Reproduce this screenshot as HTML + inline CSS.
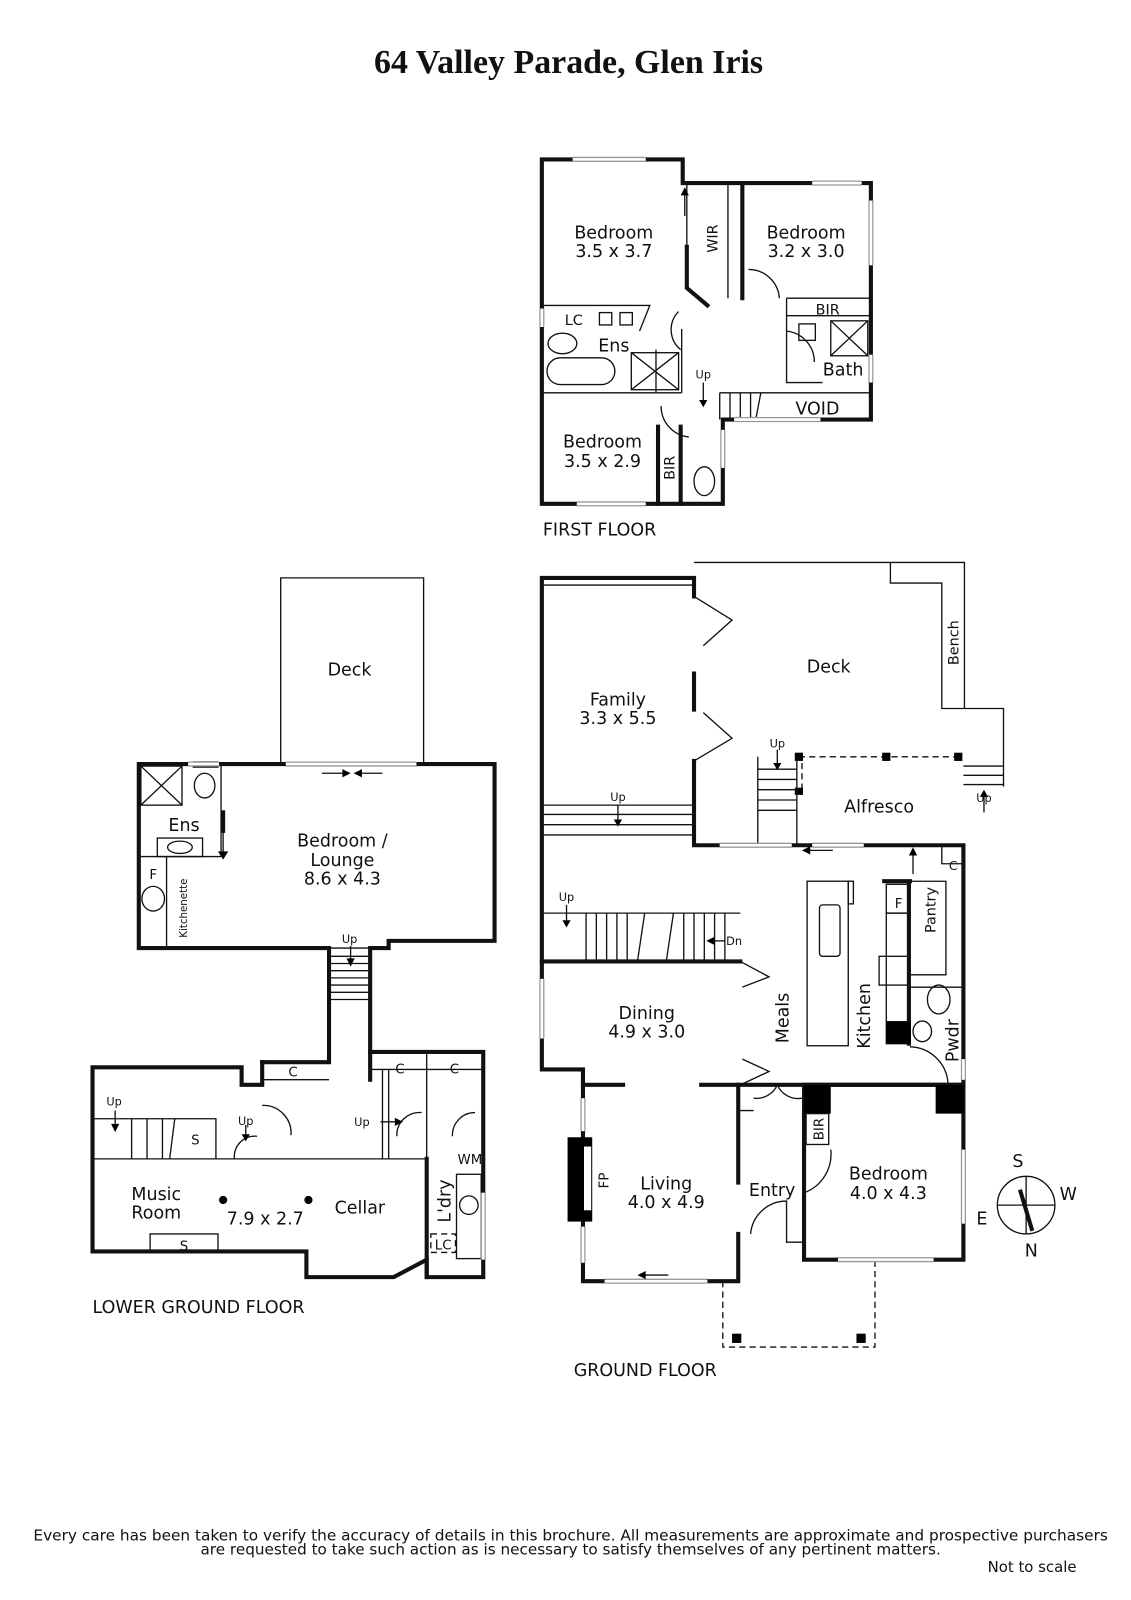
<!DOCTYPE html>
<html><head><meta charset="utf-8"><style>
html,body{margin:0;padding:0;background:#fff}
svg{display:block}
text{font-family:"DejaVu Sans","Liberation Sans",sans-serif;fill:#111}
.t{font-size:17px;text-anchor:middle}
.s{font-size:12px;text-anchor:middle}
.w{stroke:#111;stroke-width:4;fill:none;stroke-linecap:square}
.n{stroke:#111;stroke-width:1.3;fill:none}
.d{stroke:#111;stroke-width:1.3;fill:none;stroke-dasharray:6 4}
.win{stroke:#999;stroke-width:5;fill:none}
.win2{stroke:#fff;stroke-width:2.5;fill:none}
</style></head><body>
<svg width="1131" height="1600" viewBox="0 0 1100 1556" preserveAspectRatio="none" xmlns="http://www.w3.org/2000/svg">
<text x="553" y="71" style="font-family:'Liberation Serif',serif;font-weight:bold;font-size:33px;text-anchor:middle">64 Valley Parade, Glen Iris</text>

<!-- FIRST FLOOR -->
<g>
<path class="w" d="M527 155 H664 V178 H847 V408 H703 V490 H527 Z"/>
<path class="w" d="M722 178 V290"/>
<path class="w" d="M668 240 V280 L688 297"/>
<path class="n" d="M668 178 V240 M708 178 V290"/>
<path class="n" d="M527 297 H632 L622 322 M527 382 H663 M638 382 V340 M663 320 V382"/>
<path class="n" d="M765 290 H847 M765 307 H847 M765 290 V372 H800 M765 372 H785"/>
<path class="n" d="M700 382 H847 M700 382 V408 M740 382 L735 408 M710 382V408 M720 382V408 M730 382V408"/>
<path class="w" d="M640 415 V490 M662 415 V490"/>
<path class="n" d="M660 303 A25 25 0 0 0 662 340 M728 262 A30 30 0 0 1 758 290 M765 322 A30 30 0 0 1 792 352 M643 395 A30 30 0 0 0 670 425"/>
<rect class="n" x="614" y="343" width="46" height="36"/><path class="n" d="M614 343 L660 379 M660 343 L614 379"/>
<rect class="n" x="808" y="312" width="36" height="34"/><path class="n" d="M808 312 L844 346 M844 312 L808 346"/>
<rect class="n" x="777" y="315" width="16" height="16"/>
<ellipse class="n" cx="547" cy="334" rx="14" ry="10"/>
<rect class="n" x="532" y="348" width="66" height="26" rx="13"/>
<rect class="n" x="583" y="304" width="12" height="12"/><rect class="n" x="603" y="304" width="12" height="12"/>
<ellipse class="n" cx="685" cy="468" rx="10" ry="14"/>
<path class="win" d="M557 155H628 M790 178H838 M847 195V258 M847 345V372 M527 300V318 M714 408H798 M561 490H628 M703 418V455"/>
<path class="win2" d="M557 155H628 M790 178H838 M847 195V258 M847 345V372 M527 300V318 M714 408H798 M561 490H628 M703 418V455"/>
<path class="n" d="M666 210 V185"/><path d="M662 190 L666 182 L670 190Z"/>
<path class="n" d="M684 372 V392"/><path d="M680 389 L684 396 L688 389Z"/>
<text class="t" x="597" y="232">Bedroom</text><text class="t" x="597" y="250">3.5 x 3.7</text>
<text class="t" x="784" y="232">Bedroom</text><text class="t" x="784" y="250">3.2 x 3.0</text>
<text class="t" x="586" y="435">Bedroom</text><text class="t" x="586" y="454">3.5 x 2.9</text>
<text class="t" transform="translate(698 232) rotate(-90)" style="font-size:14px">WIR</text>
<text class="s" x="558" y="316" style="font-size:14px">LC</text>
<text class="t" x="597" y="342">Ens</text>
<text class="t" x="820" y="365">Bath</text>
<text class="s" x="805" y="306" style="font-size:14px">BIR</text>
<text class="s" x="684" y="368" style="font-size:11px">Up</text>
<text class="t" x="795" y="403">VOID</text>
<text class="t" transform="translate(656 455) rotate(-90)" style="font-size:14px">BIR</text>
<text x="528" y="521" style="font-size:17px">FIRST FLOOR</text>
</g>

<!-- GROUND FLOOR -->
<g>
<path class="n" d="M675 547 H938 V689 H976 V736 M866 547 V567 H916 V689 H938"/>
<path class="n" d="M527 569 H675"/>
<path class="w" d="M527 562 H675 V580 M675 655 V690 M675 740 V822 H937 V1055 M527 562 V1040 H567 V1246 H718 V1200 M718 1150 V1055 M782 1055 H937 M782 1055 V1225 H937 V1055"/>
<path class="n" d="M675 580 L712 603 L684 628 M675 740 L712 718 L684 693"/>
<path class="n" d="M527 783 H675 M527 792 H675 M527 802 H675 M527 812 H675"/>
<path class="d" d="M777 736 H937 M780 742 V770"/>
<rect x="773" y="732" width="8" height="8"/><rect x="858" y="732" width="8" height="8"/><rect x="928" y="732" width="8" height="8"/><rect x="773" y="766" width="8" height="7"/>
<path class="n" d="M737 736 V822 M775 736 V822 M737 748 H775 M737 758 H775 M737 768 H775 M737 778 H775 M737 788 H775 M937 745 H976 M937 754 H976 M937 763 H976 M976 736 V765"/>
<path class="n" d="M527 888 H720 M570 888 V935 M580 888V935 M590 888V935 M600 888V935 M610 888V935 M627 888 L620 935 M655 888 L648 935 M665 888V935 M675 888V935 M685 888V935 M695 888V935 M705 888V935"/>
<path class="w" d="M527 935 H720"/>
<path class="n" d="M720 935 L748 950 L722 960 M720 1055 L748 1042 L722 1030"/>
<path class="w" d="M567 1055 H606 M682 1055 H718 M718 1055 H937"/>
<path class="n" d="M718 1055 V1080 H733 M733 1068 A22 22 0 0 0 756 1055 A22 22 0 0 0 780 1068"/>
<rect x="782" y="1055" width="26" height="28"/><rect x="910" y="1055" width="27" height="28"/>
<rect class="n" x="784" y="1083" width="22" height="30"/>
<path class="n" d="M782 1160 A40 40 0 0 0 808 1118 M730 1200 A35 35 0 0 1 765 1168 V1208 H782"/>
<rect x="552" y="1106" width="24" height="82"/><rect x="568" y="1115" width="7" height="62" fill="#fff"/>
<rect class="n" x="785" y="857" width="40" height="160"/><rect class="n" x="825" y="857" width="5" height="22"/>
<rect class="n" x="797" y="880" width="20" height="50" rx="3"/>
<path class="w" d="M884 860 V1015 M860 857 H885"/>
<rect class="n" x="862" y="860" width="22" height="28"/>
<rect class="n" x="862" y="888" width="22" height="127"/>
<rect x="862" y="993" width="24" height="22"/>
<rect class="n" x="855" y="930" width="29" height="28"/>
<path class="n" d="M885 857 H920 V948 H885 M885 960 H937 M916 822 V840 H937"/>
<ellipse class="n" cx="913" cy="972" rx="11" ry="14"/><ellipse class="n" cx="897" cy="1003" rx="9" ry="10"/>
<path class="n" d="M885 1018 A38 38 0 0 1 922 1053"/>
<path class="d" d="M703 1246 V1310 H851 V1225"/>
<rect x="712" y="1297" width="9" height="9"/><rect x="833" y="1297" width="9" height="9"/>
<path class="win" d="M700 822H770 M790 822H840 M527 952V1010 M567 1068V1100 M567 1193V1228 M588 1246H688 M815 1225H908 M937 1118V1190 M937 1030V1050"/>
<path class="win2" d="M700 822H770 M790 822H840 M527 952V1010 M567 1068V1100 M567 1193V1228 M588 1246H688 M815 1225H908 M937 1118V1190 M937 1030V1050"/>
<path class="n" d="M888 850 V828"/><path d="M884 832 L888 824 L892 832Z"/>
<path class="n" d="M785 827 H810"/><path d="M788 823 L780 827 L788 831Z"/>
<path class="n" d="M625 1240 H650"/><path d="M628 1236 L620 1240 L628 1244Z"/>
<path class="n" d="M692 915 H705"/><path d="M695 911 L687 915 L695 919Z"/>
<path class="n" d="M601 783 V800 M551 880 V898 M756 729 V745 M957 790 V772"/>
<path d="M597 797 L601 804 L605 797Z M547 895 L551 902 L555 895Z M752 742 L756 749 L760 742Z M953 775 L957 768 L961 775Z"/>
<text class="t" x="601" y="686">Family</text><text class="t" x="601" y="704">3.3 x 5.5</text>
<text class="t" x="806" y="654">Deck</text>
<text class="t" transform="translate(932 625) rotate(-90)" style="font-size:14px">Bench</text>
<text class="t" x="855" y="790">Alfresco</text>
<text class="t" x="629" y="991">Dining</text><text class="t" x="629" y="1009">4.9 x 3.0</text>
<text class="t" transform="translate(767 990) rotate(-90)">Meals</text>
<text class="t" transform="translate(846 988) rotate(-90)">Kitchen</text>
<text class="t" transform="translate(910 885) rotate(-90)" style="font-size:14px">Pantry</text>
<text class="t" transform="translate(932 1012) rotate(-90)">Pwdr</text>
<text class="s" x="874" y="883" style="font-size:13px">F</text>
<text class="s" x="927" y="846" style="font-size:12px">C</text>
<text class="s" x="601" y="779" style="font-size:11px">Up</text>
<text class="s" x="551" y="876" style="font-size:11px">Up</text>
<text class="s" x="756" y="727" style="font-size:11px">Up</text>
<text class="s" x="957" y="780" style="font-size:11px">Up</text>
<text class="s" x="714" y="919" style="font-size:11px">Dn</text>
<text class="t" transform="translate(801 1098) rotate(-90)" style="font-size:13px">BIR</text>
<text class="t" transform="translate(592 1148) rotate(-90)" style="font-size:13px">FP</text>
<text class="t" x="648" y="1157">Living</text><text class="t" x="648" y="1175">4.0 x 4.9</text>
<text class="t" x="751" y="1163">Entry</text>
<text class="t" x="864" y="1147">Bedroom</text><text class="t" x="864" y="1166">4.0 x 4.3</text>
<text x="558" y="1338" style="font-size:17px">GROUND FLOOR</text>
</g>

<!-- compass -->
<g>
<circle class="n" cx="998" cy="1172" r="28"/>
<path class="n" d="M970 1172 H1026 M998 1144 V1200"/>
<path stroke="#111" stroke-width="4" d="M992 1157 L1004 1197"/>
<text class="t" x="990" y="1135">S</text><text class="t" x="1039" y="1167">W</text>
<text class="t" x="955" y="1191">E</text><text class="t" x="1003" y="1222">N</text>
</g>

<!-- LOWER GROUND FLOOR -->
<g>
<path class="n" d="M273 743 V562 H412 V743"/>
<path class="w" d="M135 743 H481 V915 H378 V922 H360 V1023 H470 V1242 H415 V1225 L383 1242 H298 V1217 H90 V1038 H235 V1055 H255 M255 1033 H320 V1030 M320 922 V1030 M135 743 V922 H320"/>
<path class="w" d="M255 1033 V1052 M360 1023 V1050 M415 1127 V1242"/>
<path class="n" d="M135 833 H215 M215 743 V833 M162 833 V922 M255 1050 H320 M360 1040 H470 M415 1023 V1127 M90 1127 H415"/>
<rect class="n" x="137" y="745" width="40" height="38"/><path class="n" d="M137 745 L177 783 M177 745 L137 783"/>
<ellipse class="n" cx="199" cy="764" rx="10" ry="12"/><rect class="n" x="188" y="741" width="24" height="5"/>
<rect class="n" x="153" y="815" width="44" height="18"/><ellipse class="n" cx="175" cy="824" rx="12" ry="6"/>
<ellipse class="n" cx="149" cy="874" rx="11" ry="12"/>
<path class="w" d="M217 790 V808"/><path class="n" d="M217 790 V830"/><path d="M212 828 L217 836 L222 828Z"/>
<path class="n" d="M320 922 H360 M320 930H360 M320 937H360 M320 944H360 M320 951H360 M320 958H360 M320 965H360 M320 972H360"/>
<path class="n" d="M90 1088 H210 V1127 M128 1088 V1127 M143 1088V1127 M158 1088V1127 M170 1088 L165 1127"/>
<path class="n" d="M255 1075 A27 27 0 0 1 283 1104 M228 1127 A20 20 0 0 1 250 1105 M386 1105 A22 22 0 0 1 410 1082 M440 1105 A22 22 0 0 1 462 1082"/>
<path class="n" d="M372 1040 V1127 M378 1040 V1127"/>
<rect class="n" x="146" y="1200" width="66" height="17"/>
<rect class="n" x="444" y="1142" width="24" height="82"/><circle class="n" cx="456" cy="1172" r="9"/>
<rect class="d" x="419" y="1200" width="24" height="18"/>
<path class="win" d="M278 743H405 M470 1160V1225 M183 743H213"/>
<path class="win2" d="M278 743H405 M470 1160V1225 M183 743H213"/>
<path class="n" d="M313 752 H335 M350 752 H372"/><path d="M333 748 L341 752 L333 756Z M352 748 L344 752 L352 756Z"/>
<path class="n" d="M341 920 V935 M112 1080 V1095 M239 1094 V1105 M370 1091 H387"/>
<path d="M337 932 L341 940 L345 932Z M108 1093 L112 1101 L116 1093Z M235 1103 L239 1110 L243 1103Z M384 1087 L392 1091 L384 1095Z"/>
<circle cx="217" cy="1167" r="4"/><circle cx="300" cy="1167" r="4"/>
<text class="t" x="340" y="657">Deck</text>
<text class="t" x="179" y="808">Ens</text>
<text class="t" x="333" y="823">Bedroom /</text><text class="t" x="333" y="842">Lounge</text><text class="t" x="333" y="860">8.6 x 4.3</text>
<text class="s" x="149" y="855" style="font-size:13px">F</text>
<text transform="translate(182 912) rotate(-90)" style="font-size:10px">Kitchenette</text>
<text class="s" x="340" y="917" style="font-size:11px">Up</text>
<text class="s" x="111" y="1075" style="font-size:11px">Up</text>
<text class="s" x="239" y="1094" style="font-size:11px">Up</text>
<text class="s" x="352" y="1095" style="font-size:11px">Up</text>
<text class="s" x="285" y="1047" style="font-size:13px">C</text>
<text class="s" x="389" y="1044" style="font-size:13px">C</text>
<text class="s" x="442" y="1044" style="font-size:13px">C</text>
<text class="s" x="190" y="1113" style="font-size:13px">S</text>
<text class="s" x="179" y="1216" style="font-size:13px">S</text>
<text class="s" x="457" y="1132" style="font-size:13px">WM</text>
<text class="s" x="431" y="1215" style="font-size:13px">LC</text>
<text class="t" transform="translate(438 1168) rotate(-90)">L'dry</text>
<text class="t" x="152" y="1167">Music</text><text class="t" x="152" y="1185">Room</text>
<text class="t" x="258" y="1191">7.9 x 2.7</text>
<text class="t" x="350" y="1180">Cellar</text>
<text x="90" y="1277" style="font-size:17px">LOWER GROUND FLOOR</text>
</g>

<text x="555" y="1498" style="font-size:14.5px;text-anchor:middle" textLength="1045" lengthAdjust="spacingAndGlyphs">Every care has been taken to verify the accuracy of details in this brochure.  All measurements are approximate and prospective purchasers</text>
<text x="555" y="1512" style="font-size:14.5px;text-anchor:middle" textLength="720" lengthAdjust="spacingAndGlyphs">are requested to take such action as is necessary to satisfy themselves of any pertinent matters.</text>
<text x="1047" y="1529" style="font-size:14.5px;text-anchor:end">Not to scale</text>
</svg>
</body></html>
